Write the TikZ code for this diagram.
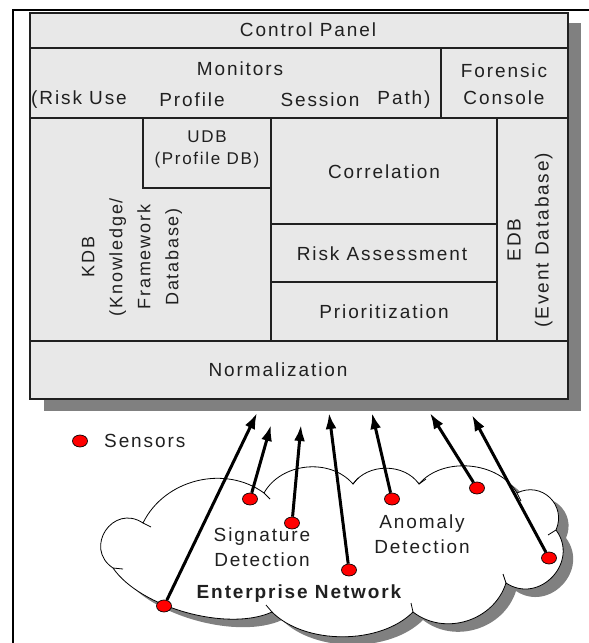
\documentclass[tikz,border=0pt]{standalone}
\usepackage{fontspec}
\setmainfont{Liberation Sans}[LetterSpace=10]
\usepackage{tikz}
\usetikzlibrary{arrows.meta, shapes.geometric}
\definecolor{CellGray}{HTML}{E8E8E8}
\definecolor{ShadowGray}{HTML}{808080}
\definecolor{SensorRed}{HTML}{FF0000}
\definecolor{LineDark}{HTML}{202020}
\newcommand{\netcloud}{(113,568) to[bend right=90, looseness=1.7] (143,523)
  to[bend right=50, looseness=1.0] (264,493)
  to[bend right=55, looseness=1.0] (353,484)
  to[bend right=55, looseness=1.0] (419,484)
  to[bend right=55, looseness=0.95] (517,493)
  to[bend right=70, looseness=1.3] (556,530)
  to[bend right=80, looseness=1.4] (506,583)
  to[bend right=55, looseness=1.05] (413,612)
  to[bend right=45, looseness=0.85] (272,612)
  to[bend right=40, looseness=0.75] (113,568) -- cycle}

\begin{document}
\begin{tikzpicture}[yscale=-1, x=1pt, y=1pt,
    cell/.style={draw=LineDark, line width=1.4pt},
    lbl/.style={font=\fontsize{19}{25}\selectfont, text=LineDark, align=center, inner sep=0pt},
    sensor/.style={ellipse, draw=black, line width=0.7pt, fill=SensorRed, minimum width=15pt, minimum height=12pt, inner sep=0pt},
    feed/.style={-{Latex[length=16pt,width=11pt]}, line width=3pt}
  ]
  \useasboundingbox (0,0) rectangle (589,643);

  % frame
  \draw[line width=2pt] (13,643) -- (13,10) -- (589,10);

  % panel with shadow
  \fill[ShadowGray] (44,23) rectangle (581,411);
  \filldraw[fill=CellGray, cell] (30,13) rectangle (568,399);
  \draw[cell] (30,48) -- (568,48) (30,118) -- (568,118) (30,341) -- (568,341)
    (441,48) -- (441,118)
    (143,118) -- (143,188) -- (271,188)
    (271,118) -- (271,341) (497,118) -- (497,341)
    (271,224) -- (497,224) (271,282) -- (497,282);

  \node[lbl] (ctrl) at (308,30) {Control Panel};
  \node[lbl] (mon) at (240,69) {Monitors};
  \node[lbl, anchor=west] (monrisk) at (31,100) {(Risk Use};
  \node[lbl] (monprof) at (192,100) {Profile};
  \node[lbl] (monsess) at (320,100) {Session};
  \node[lbl] (monpath) at (404,100) {Path)};
  \node[lbl, font=\fontsize{19}{27}\selectfont] (forensic) at (504,84) {Forensic\\Console};
  \node[lbl, font=\fontsize{17}{22}\selectfont] (udb) at (207,149) {UDB\\(Profile DB)};
  \node[lbl, rotate=90, font=\fontsize{18}{28}\selectfont] (kdb) at (132,257) {KDB\\(Knowledge/\\Framework\\Database)};
  \node[lbl] (corr) at (384,172) {Correlation};
  \node[lbl] (risk) at (382,254) {Risk Assessment};
  \node[lbl] (prio) at (384,312) {Prioritization};
  \node[lbl, rotate=90, font=\fontsize{19}{28}\selectfont] (edb) at (530,240) {EDB\\(Event Database)};
  \node[lbl] (norm) at (278,370) {Normalization};

  % enterprise network
  \fill[ShadowGray, shift={(10,8)}] \netcloud;
  \filldraw[fill=white, draw=black, line width=0.8pt] \netcloud;
  \draw[line width=0.8pt] (143,523) -- ++(8,4) (264,493) -- ++(6,6) (353,484) -- ++(5,-6)
    (419,484) -- ++(7,-5) (517,493) -- ++(4,8) (556,530) -- ++(-8,5)
    (506,583) -- ++(-3,-9) (413,612) -- ++(-2,-9) (272,612) -- ++(-6,-7) (113,568) -- ++(10,1);

  \node[lbl] (sig) at (262,547) {Signature\\Detection};
  \node[lbl] (anom) at (422,534) {Anomaly\\Detection};
  \node[lbl, font=\fontsize{19}{24}\selectfont\bfseries] (ent) at (299,594) {Enterprise Network};

  % legend
  \node[sensor] (key) at (80,441) {};
  \node[lbl, anchor=west] (keytxt) at (104,441) {Sensors};

  % sensors
  \node[sensor] (s1) at (164,606) {};
  \node[sensor] (s2) at (250,499) {};
  \node[sensor] (s3) at (292,523) {};
  \node[sensor] (s4) at (349,570) {};
  \node[sensor] (s5) at (392,499) {};
  \node[sensor] (s6) at (477,488) {};
  \node[sensor] (s7) at (549,558) {};
  \coordinate (t1) at (257,413);
  \coordinate (t2) at (271,425);
  \coordinate (t3) at (301,425);
  \coordinate (t4) at (329,413);
  \coordinate (t5) at (372,413);
  \coordinate (t6) at (430,413);
  \coordinate (t7) at (472,415);
  \foreach \i in {1,...,7}
    \draw[feed] (s\i) -- (t\i);
\end{tikzpicture}
\end{document}
